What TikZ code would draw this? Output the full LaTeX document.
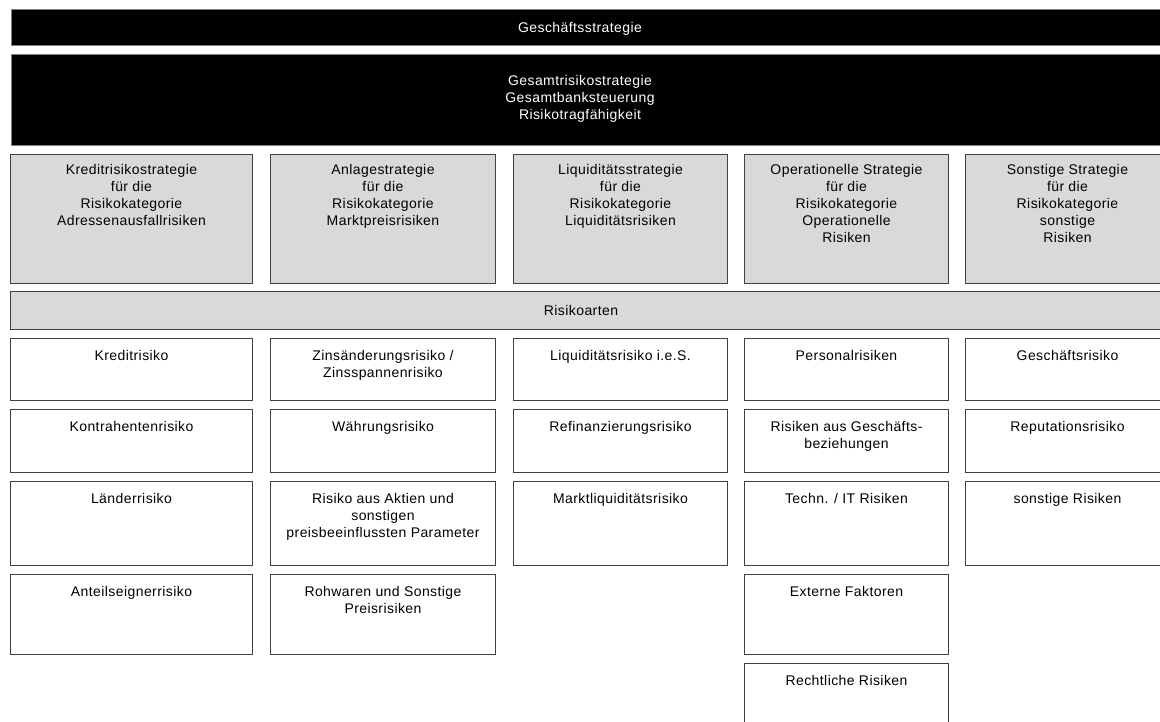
\documentclass[tikz,border=0pt]{standalone}
\usepackage{fontspec}
\setmainfont{Liberation Sans}[LetterSpace=3]
\definecolor{boxgray}{HTML}{D9D9D9}
\definecolor{edge}{HTML}{404040}
\tikzset{
  blackbar/.style={draw=gray, fill=black, line width=1pt, anchor=north west, inner sep=0pt},
  graybox/.style={draw=edge, fill=boxgray, line width=1pt, anchor=north west, inner sep=0pt},
  whitebox/.style={draw=edge, fill=white, line width=1pt, anchor=north west, inner sep=0pt},
  lbl/.style={align=center, inner sep=0pt, anchor=north, font=\fontsize{14}{17}\selectfont},
  wlbl/.style={lbl, text=white}
}
\begin{document}
\begin{tikzpicture}[x=1pt,y=-1pt]
\useasboundingbox (0,0) rectangle (1160,722);
\clip (0,0) rectangle (1160,722);
\fill[white] (0,0) rectangle (1160,722);
% top bars
\node[blackbar, minimum width=1160pt, minimum height=36pt] (gs) at (11,9) {};
\node[wlbl] (gsl) at (580,22) {Geschäftsstrategie};
\node[blackbar, minimum width=1160pt, minimum height=91pt] (grs) at (11,54) {};
\node[wlbl] (grsl) at (580,75) {Gesamtrisikostrategie\\Gesamtbanksteuerung\\Risikotragfähigkeit};
% strategy boxes
\node[graybox, minimum width=242pt, minimum height=129pt] (s1) at (10,154) {};
\node[graybox, minimum width=225pt, minimum height=129pt] (s2) at (270,154) {};
\node[graybox, minimum width=214pt, minimum height=129pt] (s3) at (513,154) {};
\node[graybox, minimum width=204pt, minimum height=129pt] (s4) at (744,154) {};
\node[graybox, minimum width=204pt, minimum height=129pt] (s5) at (965,154) {};
\node[lbl] at ([yshift=-10pt]s1.north) {Kreditrisikostrategie\\für die\\Risikokategorie\\Adressenausfallrisiken};
\node[lbl] at ([yshift=-10pt]s2.north) {Anlagestrategie\\für die\\Risikokategorie\\Marktpreisrisiken};
\node[lbl] at ([yshift=-10pt]s3.north) {Liquiditätsstrategie\\für die\\Risikokategorie\\Liquiditätsrisiken};
\node[lbl] at ([yshift=-10pt]s4.north) {Operationelle Strategie\\für die\\Risikokategorie\\Operationelle\\Risiken};
\node[lbl] at ([yshift=-10pt]s5.north) {Sonstige Strategie\\für die\\Risikokategorie\\sonstige\\Risiken};
% Risikoarten
\node[graybox, minimum width=1160pt, minimum height=38pt] (ra) at (10,291) {};
\node[lbl] (ral) at (581,305) {Risikoarten};
% column 1
\node[whitebox, minimum width=242pt, minimum height=62pt] (a1) at (10,338) {};
\node[whitebox, minimum width=242pt, minimum height=63pt] (a2) at (10,409) {};
\node[whitebox, minimum width=242pt, minimum height=84pt] (a3) at (10,481) {};
\node[whitebox, minimum width=242pt, minimum height=80pt] (a4) at (10,574) {};
\node[lbl] at ([yshift=-12pt]a1.north) {Kreditrisiko};
\node[lbl] at ([yshift=-12pt]a2.north) {Kontrahentenrisiko};
\node[lbl] at ([yshift=-12pt]a3.north) {Länderrisiko};
\node[lbl] at ([yshift=-12pt]a4.north) {Anteilseignerrisiko};
% column 2
\node[whitebox, minimum width=225pt, minimum height=62pt] (b1) at (270,338) {};
\node[whitebox, minimum width=225pt, minimum height=63pt] (b2) at (270,409) {};
\node[whitebox, minimum width=225pt, minimum height=84pt] (b3) at (270,481) {};
\node[whitebox, minimum width=225pt, minimum height=80pt] (b4) at (270,574) {};
\node[lbl] at ([yshift=-12pt]b1.north) {Zinsänderungsrisiko /\\Zinsspannenrisiko};
\node[lbl] at ([yshift=-12pt]b2.north) {Währungsrisiko};
\node[lbl] at ([yshift=-12pt]b3.north) {Risiko aus Aktien und\\sonstigen\\preisbeeinflussten Parameter};
\node[lbl] at ([yshift=-12pt]b4.north) {Rohwaren und Sonstige\\Preisrisiken};
% column 3
\node[whitebox, minimum width=214pt, minimum height=62pt] (c1) at (513,338) {};
\node[whitebox, minimum width=214pt, minimum height=63pt] (c2) at (513,409) {};
\node[whitebox, minimum width=214pt, minimum height=84pt] (c3) at (513,481) {};
\node[lbl] at ([yshift=-12pt]c1.north) {Liquiditätsrisiko i.e.S.};
\node[lbl] at ([yshift=-12pt]c2.north) {Refinanzierungsrisiko};
\node[lbl] at ([yshift=-12pt]c3.north) {Marktliquiditätsrisiko};
% column 4
\node[whitebox, minimum width=204pt, minimum height=62pt] (d1) at (744,338) {};
\node[whitebox, minimum width=204pt, minimum height=63pt] (d2) at (744,409) {};
\node[whitebox, minimum width=204pt, minimum height=84pt] (d3) at (744,481) {};
\node[whitebox, minimum width=204pt, minimum height=80pt] (d4) at (744,574) {};
\node[whitebox, minimum width=204pt, minimum height=85pt] (d5) at (744,663) {};
\node[lbl] at ([yshift=-12pt]d1.north) {Personalrisiken};
\node[lbl] at ([yshift=-12pt]d2.north) {Risiken aus Geschäfts-\\beziehungen};
\node[lbl] at ([yshift=-12pt]d3.north) {Techn. / IT Risiken};
\node[lbl] at ([yshift=-12pt]d4.north) {Externe Faktoren};
\node[lbl] at ([yshift=-12pt]d5.north) {Rechtliche Risiken};
% column 5
\node[whitebox, minimum width=204pt, minimum height=62pt] (e1) at (965,338) {};
\node[whitebox, minimum width=204pt, minimum height=63pt] (e2) at (965,409) {};
\node[whitebox, minimum width=204pt, minimum height=84pt] (e3) at (965,481) {};
\node[lbl] at ([yshift=-12pt]e1.north) {Geschäftsrisiko};
\node[lbl] at ([yshift=-12pt]e2.north) {Reputationsrisiko};
\node[lbl] at ([yshift=-12pt]e3.north) {sonstige Risiken};
\end{tikzpicture}
\end{document}
